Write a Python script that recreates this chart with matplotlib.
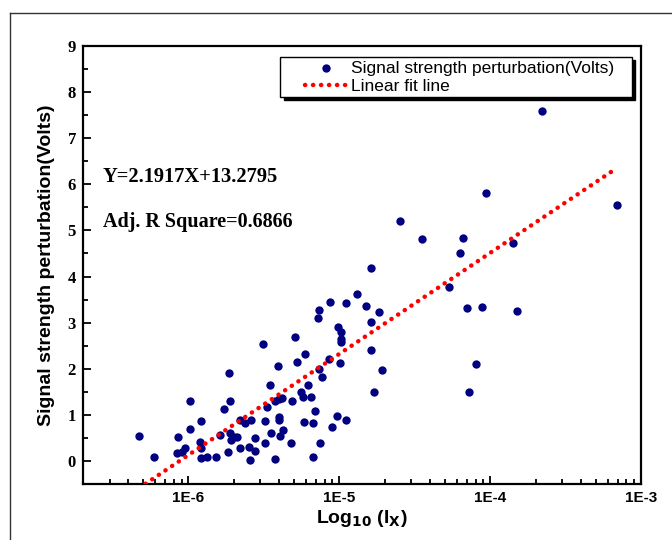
import matplotlib
matplotlib.use("Agg")
import matplotlib.pyplot as plt
import numpy as np
from matplotlib.lines import Line2D
from matplotlib.patches import Rectangle
from matplotlib.ticker import FixedLocator, LogLocator, NullFormatter

# current I_x (A) and signal strength perturbation (V)
current = [
    4.69e-7, 5.91e-7, 8.55e-7, 8.41e-7, 9.08e-7, 9.55e-7, 1.02e-6, 1.02e-6,
    1.21e-6, 1.20e-6, 1.21e-6, 1.21e-6, 1.32e-6, 1.52e-6, 1.63e-6, 1.73e-6,
    1.83e-6, 1.85e-6, 1.88e-6, 1.88e-6, 1.91e-6, 2.00e-6, 2.10e-6, 2.21e-6,
    2.38e-6, 2.58e-6, 2.21e-6, 2.51e-6, 2.75e-6, 2.54e-6, 2.75e-6, 3.14e-6,
    3.45e-6, 3.32e-6, 3.24e-6, 3.24e-6, 3.55e-6, 3.73e-6, 3.93e-6, 3.77e-6,
    3.96e-6, 4.17e-6, 3.96e-6, 4.01e-6, 4.22e-6, 4.07e-6, 4.79e-6, 4.86e-6,
    5.06e-6, 5.27e-6, 5.60e-6, 5.71e-6, 5.96e-6, 6.21e-6, 6.53e-6, 5.86e-6,
    6.70e-6, 6.93e-6, 7.18e-6, 7.30e-6, 7.38e-6, 7.68e-6, 7.41e-6, 6.68e-6,
    8.63e-6, 8.59e-6, 8.95e-6, 9.75e-6, 1.02e-5, 1.02e-5, 1.02e-5, 1.01e-5,
    9.66e-6, 1.11e-5, 1.11e-5, 1.31e-5, 1.51e-5, 1.62e-5, 1.62e-5, 1.62e-5,
    1.82e-5, 1.92e-5, 1.71e-5, 2.54e-5, 3.55e-5, 5.35e-5, 6.32e-5, 6.65e-5,
    7.05e-5, 7.26e-5, 8.00e-5, 8.81e-5, 9.37e-5, 1.41e-4, 1.51e-4, 2.21e-4,
    6.93e-4,
]
signal = [
    0.54, 0.09, 0.52, 0.17, 0.20, 0.28, 1.30, 0.70,
    0.87, 0.42, 0.28, 0.07, 0.08, 0.08, 0.57, 1.12,
    0.20, 1.90, 1.29, 0.61, 0.46, 0.53, 0.53, 0.89,
    0.83, 0.89, 0.28, 0.31, 0.22, 0.02, 0.49, 2.54,
    1.65, 1.16, 0.87, 0.40, 0.61, 0.04, 2.05, 1.29,
    1.34, 1.36, 0.89, 0.96, 0.67, 0.54, 0.40, 1.31,
    2.69, 2.15, 1.49, 1.39, 2.31, 1.65, 1.38, 0.84,
    0.82, 1.08, 3.10, 3.28, 2.00, 1.82, 0.40, 0.08,
    3.44, 2.21, 0.73, 2.90, 2.80, 2.64, 2.57, 2.12,
    0.98, 0.89, 3.43, 3.62, 3.35, 4.18, 3.02, 2.41,
    3.22, 1.97, 1.50, 5.20, 4.82, 3.78, 4.50, 4.84,
    3.32, 1.50, 2.10, 3.33, 5.82, 4.73, 3.26, 7.60,
    5.55,
]

fit_slope = 2.1917
fit_intercept = 13.2795
adj_r2 = 0.6866

x_ticks = [1e-6, 1e-5, 1e-4, 1e-3]
x_tick_labels = ["1E-6", "1E-5", "1E-4", "1E-3"]
y_ticks = list(range(0, 10))

fig = plt.figure(figsize=(6.72, 5.40), dpi=100)
ax = fig.add_axes([0.1235, 0.1037, 0.8304, 0.8111])

ax.scatter(current, signal, s=36, color="#000080", linewidths=0,
           label="Signal strength perturbation(Volts)", zorder=3)

fit_x = np.array([min(current), max(current)])
fit_y = fit_slope * np.log10(fit_x) + fit_intercept
ax.plot(fit_x, fit_y, color="#ff0000", linewidth=3.2,
        linestyle=(0, (0.05, 1.75)), dash_capstyle="round",
        label="Linear fit line", zorder=4)

ax.set_xscale("log")
ax.set_xlim(2.0e-7, 1e-3)
ax.set_ylim(-0.5, 9)

ax.xaxis.set_major_locator(FixedLocator(x_ticks))
ax.set_xticklabels(x_tick_labels, fontsize=11, fontweight="bold",
                   family="Liberation Sans")
ax.xaxis.set_minor_locator(LogLocator(base=10, subs=np.arange(2, 10)))
ax.xaxis.set_minor_formatter(NullFormatter())
ax.set_yticks(y_ticks)
ax.set_yticklabels([str(v) for v in y_ticks], fontsize=12,
                   fontweight="bold", family="Liberation Serif")
ax.set_yticks(np.arange(-0.5, 9, 1.0), minor=True)

ax.tick_params(which="both", direction="in", top=False, right=False,
               width=1.3, pad=5)
ax.tick_params(which="major", length=6)
ax.tick_params(which="minor", length=3.5)
for sp in ax.spines.values():
    sp.set_linewidth(1.6)

ax.set_ylabel("Signal strength perturbation(Volts)", fontsize=14,
              fontweight="bold", family="Liberation Sans", labelpad=9)
ax.set_xlabel(r"Log$_{\mathbf{10}}$ (I$_{\mathbf{X}}$)", fontsize=14,
              fontweight="bold", family="Liberation Sans", labelpad=2)

ax.text(0.036, 0.70, f"Y={fit_slope}X+{fit_intercept}", transform=ax.transAxes,
        fontsize=14.8, fontweight="bold", family="Liberation Serif",
        va="center")
ax.text(0.036, 0.598, f"Adj. R Square={adj_r2}", transform=ax.transAxes,
        fontsize=14.5, fontweight="bold", family="Liberation Serif",
        va="center")

# legend box with a solid black drop shadow
ax.add_patch(Rectangle((0.360, 0.877), 0.630, 0.091, transform=ax.transAxes,
                       facecolor="black", edgecolor="black", zorder=5,
                       clip_on=False))
ax.add_patch(Rectangle((0.353, 0.884), 0.630, 0.091, transform=ax.transAxes,
                       facecolor="white", edgecolor="black", linewidth=1.0,
                       zorder=6, clip_on=False))
leg = ax.legend(loc="upper left", bbox_to_anchor=(0.398, 0.966),
                borderaxespad=0, borderpad=0, frameon=False,
                scatterpoints=1, handlelength=2.4, handletextpad=0.25,
                labelspacing=0.17,
                prop={"family": "Liberation Sans", "size": 12.5})
leg.set_zorder(7)

# outer frame, only left and top edges visible in the crop
fig.add_artist(Line2D([10 / 672, 10 / 672], [0, 1 - 13 / 540],
                      color="#333333", linewidth=1.0))
fig.add_artist(Line2D([10 / 672, 1], [1 - 13 / 540, 1 - 13 / 540],
                      color="#333333", linewidth=1.0))

fig.savefig("out.png", dpi=100)
